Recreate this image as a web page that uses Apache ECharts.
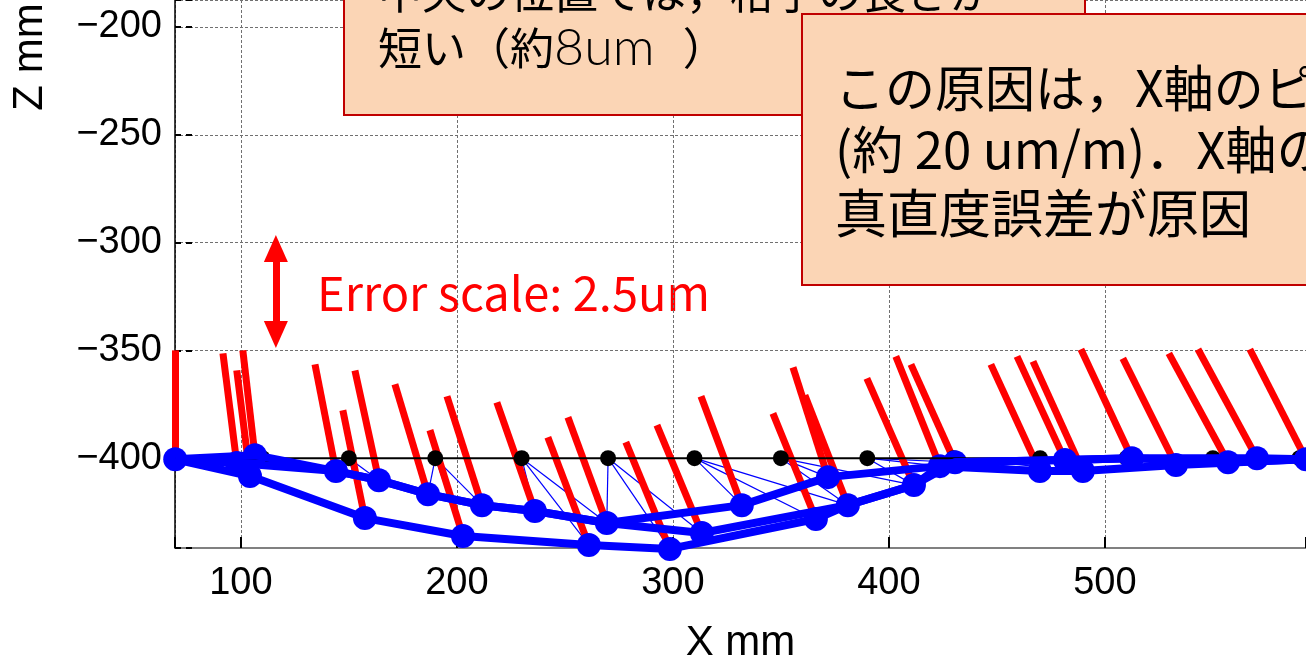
<!DOCTYPE html>
<html>
<head>
<meta charset="utf-8">
<script src="https://cdn.jsdelivr.net/npm/echarts@6/dist/echarts.min.js"></script>
<style>
html,body{margin:0;padding:0;background:#fff;}
#chart{width:1306px;height:662px;}
</style>
</head>
<body>
<div id="chart"></div>
<script>
// Measured grid positions (mm)
const pointX = [69.6, 106.5, 98.1, 104.2, 144.0, 157.4, 163.9, 186.6, 202.8, 211.6,
                236.1, 261.1, 269.4, 298.6, 313.4, 331.9, 366.2, 371.8, 381.0, 411.6,
                423.6, 430.6, 469.9, 481.5, 489.8, 512.5, 532.9, 557.0, 570.4, 593.1];
const pointZ = [-400.5, -398.6, -402.3, -408.3, -406.0, -427.8, -410.2, -416.7, -436.1, -421.8,
                -424.5, -440.3, -430.1, -442.1, -434.7, -421.8, -428.2, -408.8, -421.8, -412.5,
                -403.7, -401.9, -406.0, -400.9, -406.0, -400.0, -403.2, -401.9, -400.0, -400.5];

// Tips of the scaled error vectors drawn from each measured point (mm)
const tipX = [69.6, 100.9, 91.7, 98.1, 134.3, 147.2, 152.8, 171.3, 187.5, 195.4,
              218.5, 242.1, 251.4, 278.2, 292.6, 313.0, 346.3, 355.6, 361.1, 389.8,
              403.2, 410.2, 447.2, 459.3, 466.7, 488.9, 508.3, 529.6, 543.1, 567.1];
const tipZ = [-350.0, -350.0, -351.4, -359.3, -356.5, -377.8, -359.3, -365.7, -387.0, -371.3,
              -374.1, -390.3, -381.0, -392.6, -384.7, -371.3, -379.2, -357.9, -370.8, -363.0,
              -352.8, -356.5, -356.5, -352.8, -355.1, -349.5, -353.7, -351.4, -349.5, -349.5];

// Nominal positions along Z = -400
const refX = [70, 110, 150, 190, 230, 270, 310, 350, 390, 430, 470, 510, 550, 590];
const refZ = -400;

// Measurement runs (indices into pointX / pointZ)
const runA = [0, 3, 5, 8, 11, 13, 16, 18, 19, 20, 22, 24, 26, 29];
const runB = [0, 2, 4, 6, 7, 9, 10, 12, 14, 18, 19, 21, 23, 25, 27, 29];
const runC = [0, 1, 4, 6, 7, 9, 10, 12, 15, 17, 20, 21, 23, 25, 28, 29];

// Nominal point -> measured point correspondences
const linkRef   = [1, 1, 1, 2, 2, 2, 3, 3, 3, 4, 4, 4, 5, 5, 5, 6, 6, 6, 7, 7, 7, 8, 8, 8, 9, 9, 9, 10, 10, 11, 11, 12, 12, 13];
const linkPoint = [1, 2, 3, 4, 5, 6, 7, 8, 9, 10, 11, 12, 12, 13, 14, 15, 16, 18, 17, 18, 19, 19, 20, 21, 21, 22, 24, 23, 24, 25, 26, 27, 28, 29];

// Axis ranges and labelled ticks
const xRange = [69.5, 593.1];
const zRange = [-441.67, -187.5];
const xTicks = [100, 200, 300, 400, 500];
const zTicks = [-400, -350, -300, -250, -200];

// Error scale marker (2.5 um)
const scaleX = 116.2;
const scaleZ = [-342.6, -302.8];

const chart = echarts.init(document.getElementById('chart'), null, {renderer: 'canvas'});

const pts = pointX.map((x, i) => [x, pointZ[i]]);
const runData = run => run.map(i => pts[i]);
const isTick = (v, list) => list.some(t => Math.abs(t - v) < 1e-6);
const minus = v => (v < 0 ? '\u2212' + Math.abs(v) : String(v));

const labelFont = 'Liberation Sans';
const cjkFont = '"Noto Sans CJK JP"';

const runSeries = run => ({
  type: 'line',
  data: runData(run),
  symbol: 'none',
  clip: false,
  lineStyle: {color: '#0000ff', width: 8, join: 'round', opacity: 1},
  silent: true,
  animation: false
});

const option = {
  animation: false,
  backgroundColor: '#ffffff',
  grid: {left: 175, right: 0, top: 0, bottom: 114, containLabel: false, outerBoundsMode: 'none'},
  xAxis: {
    type: 'value',
    min: xRange[0], max: xRange[1], splitNumber: 5,
    axisLine: {show: true, onZero: false, lineStyle: {color: '#808080', width: 2}},
    axisTick: {show: true, inside: true, length: 11, lineStyle: {color: '#000', width: 2}},
    axisLabel: {
      margin: 17, color: '#000', fontFamily: labelFont, fontSize: 38,
      formatter: v => (isTick(v, xTicks) ? String(v) : '')
    },
    splitLine: {show: true, lineStyle: {color: '#707070', width: 1, type: [3, 2]}},
    name: 'X mm', nameLocation: 'middle', nameGap: 74,
    nameTextStyle: {color: '#000', fontFamily: labelFont, fontSize: 42}
  },
  yAxis: {
    type: 'value',
    min: zRange[0], max: zRange[1], splitNumber: 5,
    axisLine: {show: true, onZero: false, lineStyle: {color: '#000', width: 1.5}},
    axisTick: {show: true, inside: true, length: 17, lineStyle: {color: '#000', width: 2, type: [6, 5]}},
    axisLabel: {
      margin: 13, color: '#000', fontFamily: labelFont, fontSize: 38,
      formatter: v => (isTick(v, zTicks) ? minus(v) : '')
    },
    splitLine: {show: true, lineStyle: {color: '#707070', width: 1, type: [3, 2]}}
  },
  series: [
    {
      type: 'lines', coordinateSystem: 'cartesian2d', clip: false, silent: true,
      data: linkRef.map((r, k) => ({coords: [[refX[r], refZ], pts[linkPoint[k]]]})),
      lineStyle: {color: '#0000ff', width: 1.2, opacity: 1, curveness: 0}
    },
    {
      type: 'line', data: [[xRange[0], refZ], [xRange[1], refZ]], symbol: 'none', clip: false,
      lineStyle: {color: '#000', width: 2, opacity: 1}, silent: true
    },
    {
      type: 'scatter', data: refX.map(x => [x, refZ]), symbolSize: 16, clip: false,
      itemStyle: {color: '#000', opacity: 1}, silent: true
    },
    runSeries(runA),
    runSeries(runB),
    runSeries(runC),
    {
      type: 'scatter', data: pts, symbolSize: 24, clip: false,
      itemStyle: {color: '#0000ff', opacity: 1}, silent: true
    },
    {
      type: 'lines', coordinateSystem: 'cartesian2d', clip: false, silent: true,
      data: pts.map((p, i) => ({coords: [p, [tipX[i], tipZ[i]]]})),
      lineStyle: {color: '#ff0000', width: 7, opacity: 1, curveness: 0},
      markLine: {
        silent: true, animation: false,
        symbol: ['triangle', 'triangle'], symbolSize: [24, 27],
        label: {show: false},
        lineStyle: {color: '#ff0000', width: 7, type: 'solid', opacity: 1},
        data: [[{coord: [scaleX, scaleZ[0]]}, {coord: [scaleX, scaleZ[1]]}]]
      }
    }
  ],
  graphic: [
    {
      type: 'text', x: 30, y: 57, rotation: Math.PI / 2,
      style: {text: 'Z mm', font: '42px "Liberation Sans"', fill: '#000', align: 'center', verticalAlign: 'middle'}
    },
    {
      type: 'text', x: 317, y: 293,
      style: {text: 'Error scale: 2.5um', font: '47px ' + cjkFont, fill: '#ff0000', align: 'left', verticalAlign: 'middle'}
    },
    {
      type: 'rect', z: 100,
      shape: {x: 344, y: -80, width: 741, height: 195},
      style: {fill: '#FBD5B5', stroke: '#C00000', lineWidth: 2}
    },
    {
      type: 'text', z: 101, x: 378, y: -8,
      style: {text: '中央の位置では，格子の長さが', font: '44px ' + cjkFont, fill: '#000', align: 'left', verticalAlign: 'middle'}
    },
    {
      type: 'text', z: 101, x: 378, y: 48,
      style: {
        text: '{c|短い（約}{l|8um  }{c|）}',
        align: 'left', verticalAlign: 'middle',
        rich: {
          c: {font: '44px ' + cjkFont, fill: '#000'},
          l: {font: '300 52px Lato', fill: '#000'}
        }
      }
    },
    {
      type: 'rect', z: 102,
      shape: {x: 802, y: 14, width: 530, height: 271},
      style: {fill: '#FBD5B5', stroke: '#C00000', lineWidth: 2}
    },
    {
      type: 'text', z: 103, x: 835, y: 88,
      style: {text: 'この原因は，X軸のピッチング誤差', font: '50px ' + cjkFont, fill: '#000', align: 'left', verticalAlign: 'middle'}
    },
    {
      type: 'text', z: 103, x: 835, y: 150,
      style: {text: '(約 20 um/m)．X軸の', font: '51px ' + cjkFont, fill: '#000', align: 'left', verticalAlign: 'middle'}
    },
    {
      type: 'text', z: 103, x: 835, y: 213,
      style: {text: '真直度誤差が原因', font: '52px ' + cjkFont, fill: '#000', align: 'left', verticalAlign: 'middle'}
    }
  ]
};

chart.setOption(option);
</script>
</body>
</html>
